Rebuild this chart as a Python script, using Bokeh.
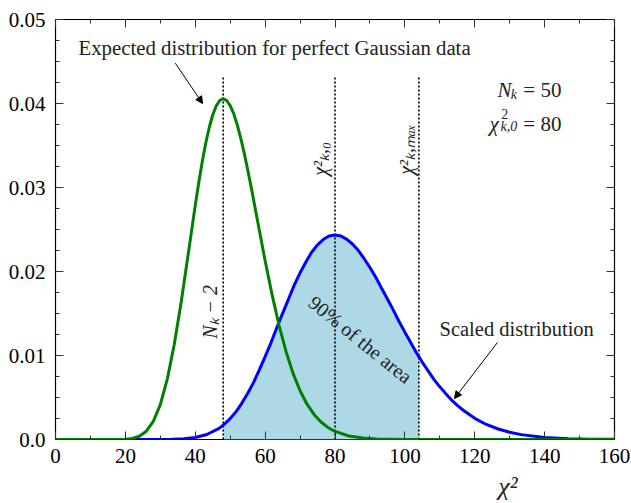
import numpy as np
from bokeh.plotting import figure
from bokeh.models import (Label, Arrow, NormalHead, LinearAxis, FixedTicker,
                          Range1d, CustomLabelingPolicy)
from bokeh.embed import file_html
from bokeh.resources import INLINE

# ---- data ----
green_x = [0, 10, 16, 20, 22, 24, 26, 28, 30, 32, 34, 36, 38, 40, 41, 42, 43, 44,
           45, 46, 47, 48, 49, 50, 51, 52, 53, 54, 55, 56, 58, 60, 62, 64, 66, 68,
           70, 72, 74, 76, 78, 80, 84, 88, 92, 100, 110, 160]
green_y = [0, 0, 0.000001, 0.00004, 0.00013, 0.00039, 0.00099, 0.00216, 0.00415,
           0.00719, 0.01133, 0.01643, 0.02212, 0.02787, 0.03057, 0.03306, 0.03527,
           0.03714, 0.03863, 0.03971, 0.04036, 0.04057, 0.04036, 0.03975, 0.03879,
           0.03749, 0.03592, 0.03412, 0.03215, 0.03005, 0.02566, 0.02130, 0.01721,
           0.01357, 0.01045, 0.00787, 0.00580, 0.00420, 0.00298, 0.00208, 0.00143,
           0.00096, 0.00042, 0.00017, 0.00007, 0.00001, 0, 0]

blue_x = [0, 20, 26.7, 33.3, 36.7, 40, 43.3, 46.7, 48, 50, 51.7, 53.3, 55, 56.7,
          58.3, 60, 61.7, 63.3, 65, 66.7, 68.3, 70, 71.7, 73.3, 75, 76.7, 78.3, 80,
          81.7, 83.3, 85, 86.7, 88.3, 90, 91.7, 93.3, 95, 96.7, 98.3, 100, 101.7,
          103.3, 104, 105, 106.7, 108.3, 110, 111.7, 113.3, 115, 116.7, 120, 123.3,
          126.7, 130, 133.3, 140, 146.7, 153.3, 160]
blue_y = [0, 0, 0.0000008, 0.000022, 0.00008, 0.000236, 0.000593, 0.00129, 0.0017,
          0.00249, 0.00332, 0.00431, 0.00547, 0.00680, 0.00826, 0.00986, 0.01154,
          0.01327, 0.01501, 0.01672, 0.01834, 0.01984, 0.02116, 0.02228, 0.02318,
          0.02383, 0.02422, 0.02434, 0.02422, 0.02385, 0.02327, 0.02249, 0.02155,
          0.02047, 0.01929, 0.01803, 0.01672, 0.01540, 0.01408, 0.01278, 0.01153,
          0.01033, 0.00987, 0.00919, 0.00814, 0.00716, 0.00627, 0.00546, 0.00472,
          0.00406, 0.00348, 0.00252, 0.00179, 0.00125, 0.00086, 0.00058, 0.00025,
          0.00010, 0.00004, 0.00002]

nk_minus_2 = 48
chi2_k0 = 80
chi2_kmax = 104
vline_top = 0.0433

x_ticks = [0, 20, 40, 60, 80, 100, 120, 140, 160]
x_minor = [10, 30, 50, 70, 90, 110, 130, 150]
y_ticks = [0.0, 0.01, 0.02, 0.03, 0.04, 0.05]
y_tick_labels = ["0.0", "0.01", "0.02", "0.03", "0.04", "0.05"]
y_minor = [i * 0.0025 for i in range(21)]
x_label = "χ²"
x_label_pos = 129.5

SERIF = "Liberation Serif"
TXT = "#222222"

p = figure(width=631, height=503, output_backend="svg", toolbar_location=None,
           x_range=Range1d(0, 160), y_range=Range1d(0, 0.05),
           min_border_left=55, min_border_right=17, min_border_top=19,
           min_border_bottom=64)
p.xgrid.visible = False
p.ygrid.visible = False
p.outline_line_color = "black"
p.outline_line_width = 1.2
p.background_fill_color = "white"
p.border_fill_color = "white"

# fill (90% of the area) between N_k-2 and chi2_max under the scaled curve
bx = np.array(blue_x)
by = np.array(blue_y)
mask = (bx >= nk_minus_2) & (bx <= chi2_kmax)
p.varea(x=bx[mask], y1=np.zeros(mask.sum()), y2=by[mask], fill_color="#add8e6")

# vertical dotted lines
vx = [nk_minus_2, chi2_k0, chi2_kmax]
p.segment(x0=vx, y0=[0] * 3, x1=vx, y1=[vline_top] * 3, line_color="black",
          line_width=1.6, line_dash="2 2")

p.line(blue_x, blue_y, line_color="#0000ff", line_width=3)
p.line(green_x, green_y, line_color="#008000", line_width=3)

no_labels = CustomLabelingPolicy(code="""
    for (const i of Array.from(indices)) indices.unset(i)
    return indices
""")

def style_axis(ax, labels=True):
    ax.axis_line_color = None
    ax.major_tick_in = 8
    ax.major_tick_out = 0
    ax.minor_tick_in = 4
    ax.minor_tick_out = 0
    ax.major_tick_line_color = "#333333"
    ax.minor_tick_line_color = "#333333"
    if labels:
        ax.major_label_text_font = SERIF
        ax.major_label_text_font_size = "21px"
        ax.major_label_text_color = "black"
    else:
        ax.major_label_policy = no_labels
        ax.major_label_text_font_size = "1px"
        ax.major_label_standoff = 0

p.xaxis.ticker = FixedTicker(ticks=x_ticks, minor_ticks=x_minor)
p.yaxis.ticker = FixedTicker(ticks=y_ticks, minor_ticks=y_minor)
p.yaxis.major_label_overrides = {v: s for v, s in zip(y_ticks, y_tick_labels)}
style_axis(p.xaxis[0])
style_axis(p.yaxis[0])
p.xaxis.major_label_standoff = 9
p.yaxis.major_label_standoff = 10

# x axis title placed off-centre, as in the reference (second axis below)
xlab_axis = LinearAxis(ticker=FixedTicker(ticks=[x_label_pos], minor_ticks=[]),
                       major_label_overrides={x_label_pos: x_label})
xlab_axis.axis_line_color = None
xlab_axis.major_tick_in = 0
xlab_axis.major_tick_out = 0
xlab_axis.minor_tick_in = 0
xlab_axis.minor_tick_out = 0
xlab_axis.major_label_standoff = 6
xlab_axis.major_label_text_font = SERIF
xlab_axis.major_label_text_font_style = "italic"
xlab_axis.major_label_text_font_size = "26px"
xlab_axis.major_label_text_color = TXT
p.add_layout(xlab_axis, "below")

top = LinearAxis(ticker=FixedTicker(ticks=x_ticks, minor_ticks=x_minor))
style_axis(top, labels=False)
p.add_layout(top, "above")
right = LinearAxis(ticker=FixedTicker(ticks=y_ticks, minor_ticks=y_minor))
style_axis(right, labels=False)
p.add_layout(right, "right")

def lab(x, y, text, size, italic=False, angle=0, align="left", baseline="alphabetic"):
    p.add_layout(Label(x=x, y=y, text=text, text_font=SERIF,
                       text_font_size=f"{size}px",
                       text_font_style="italic" if italic else "normal",
                       text_color=TXT, angle=angle, text_align=align,
                       text_baseline=baseline))

# annotations
lab(62.7, 0.0467, "Expected distribution for perfect Gaussian data", 20.8,
    align="center", baseline="middle")
lab(132.0, 0.0132, "Scaled distribution", 20.5, align="center", baseline="middle")

for xs, ys, xe, ye in [(34.3, 0.0448, 42.1, 0.0400), (126.5, 0.01155, 114.2, 0.00488)]:
    p.add_layout(Arrow(end=NormalHead(size=7, fill_color="black",
                                      line_color="black", line_width=1),
                       x_start=xs, y_start=ys, x_end=xe, y_end=ye,
                       line_color="black", line_width=1))

# top-right block
lab(126.5, 0.04155, "N", 21, italic=True)
lab(130.3, 0.0411, "k", 14, italic=True)
lab(133.9, 0.04155, "= 50", 21)
lab(124.2, 0.0376, "χ", 21, italic=True)
lab(127.6, 0.0388, "2", 14)
lab(127.4, 0.0373, "k,0", 14, italic=True)
lab(133.9, 0.0376, "= 80", 21)

# rotated labels
lab(44.2, 0.0152, "Nₖ − 2", 20, italic=True, angle=np.pi / 2,
    align="center", baseline="middle")
lab(75.8, 0.0334, "χ²ₖ,₀", 20, italic=True, angle=np.pi / 2,
    align="center", baseline="middle")
lab(100.2, 0.0345, "χ²ₖ,ₘₐₓ", 20, italic=True, angle=np.pi / 2,
    align="center", baseline="middle")
lab(87.3, 0.0119, "90% of the area", 20, angle=-0.68,
    align="center", baseline="middle")

open("out.html", "w").write(file_html(p, INLINE))
